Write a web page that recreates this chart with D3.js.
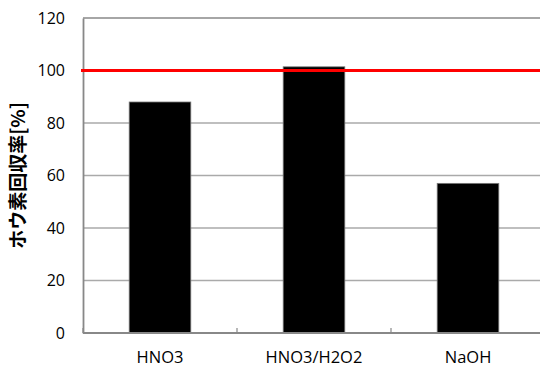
<!DOCTYPE html>
<html lang="ja">
<head>
    <meta charset="UTF-8">
    <title>ホウ素回収率</title>
    <style>
        body{ margin:0; background:#fff; }
        .tick text{ font-family:"Open Sans", sans-serif; fill:#000; }
    </style>
    <script src="https://cdn.jsdelivr.net/npm/d3@7/dist/d3.min.js"></script>
</head>
<body>
<script>
    // data
    var categories = ["HNO3", "HNO3/H2O2", "NaOH"];
    var values = [88, 101.4, 57];
    var yTicks = [0, 20, 40, 60, 80, 100, 120];
    var refValue = 100;
    var yTitle = "ホウ素回収率[%]";

    var width = 540, height = 376;
    var padding = {top:18, right:-5, bottom:43, left:83};

    var svg = d3.select("body").append("svg")
            .attr("width", width)
            .attr("height", height);

    var innerW = width - padding.left - padding.right;
    var innerH = height - padding.top - padding.bottom;

    var xScale = d3.scaleBand()
            .domain(categories)
            .range([0, innerW])
            .paddingInner(0.6)
            .paddingOuter(0.3);

    var yScale = d3.scaleLinear()
            .domain([0, 120])
            .range([innerH, 0]);

    var main = svg.append("g")
            .attr("transform", "translate(" + padding.left + "," + padding.top + ")");

    // gridlines
    main.selectAll(".grid")
            .data(yTicks.slice(1))
            .enter().append("line")
            .attr("x1", 0).attr("x2", innerW)
            .attr("y1", function(d){ return yScale(d); })
            .attr("y2", function(d){ return yScale(d); })
            .attr("stroke", function(d){ return d === 120 ? "#888" : "#aaa"; })
            .attr("stroke-width", 1.3);

    // bars
    main.selectAll(".bar")
            .data(values)
            .enter().append("rect")
            .attr("x", function(d, i){ return xScale(categories[i]); })
            .attr("y", function(d){ return yScale(d); })
            .attr("width", xScale.bandwidth())
            .attr("height", function(d){ return innerH - yScale(d); })
            .attr("fill", "#000")
            .attr("stroke", "#777")
            .attr("stroke-width", 0.8);

    // y axis
    var yAxis = d3.axisLeft(yScale).tickValues(yTicks).tickSize(0).tickPadding(18);
    var yg = main.append("g").call(yAxis);
    yg.attr("font-size", null);
    yg.select(".domain").attr("stroke", "#888").attr("stroke-width", 1.8);
    yg.selectAll("text").style("font-size", "16px");

    // x axis: category boundary ticks
    var bounds = d3.range(categories.length + 1).map(function(i){ return i * innerW / categories.length; });
    main.append("line")
            .attr("x1", 0).attr("x2", innerW)
            .attr("y1", innerH).attr("y2", innerH)
            .attr("stroke", "#888").attr("stroke-width", 1.8);
    main.selectAll(".ctick")
            .data(bounds)
            .enter().append("line")
            .attr("x1", function(d){ return d; }).attr("x2", function(d){ return d; })
            .attr("y1", innerH).attr("y2", innerH - 5)
            .attr("stroke", "#888").attr("stroke-width", 1.2);

    var xAxis = d3.axisBottom(xScale).tickSize(0).tickPadding(18);
    var xg = main.append("g").attr("transform", "translate(0," + innerH + ")").call(xAxis);
    xg.attr("font-size", null);
    xg.select(".domain").remove();
    xg.selectAll("text").style("font-size", "16.5px");

    // reference line at 100
    main.append("line")
            .attr("x1", -2).attr("x2", innerW)
            .attr("y1", yScale(refValue)).attr("y2", yScale(refValue))
            .attr("stroke", "#ff0000")
            .attr("stroke-width", 3);

    // y axis title
    svg.append("text")
            .attr("transform", "translate(25," + (padding.top + innerH / 2) + ") rotate(-90)")
            .attr("text-anchor", "middle")
            .attr("font-family", "'Noto Sans CJK JP', sans-serif")
            .attr("font-weight", "bold")
            .attr("font-size", "19px")
            .text(yTitle);
</script>
</body>
</html>
